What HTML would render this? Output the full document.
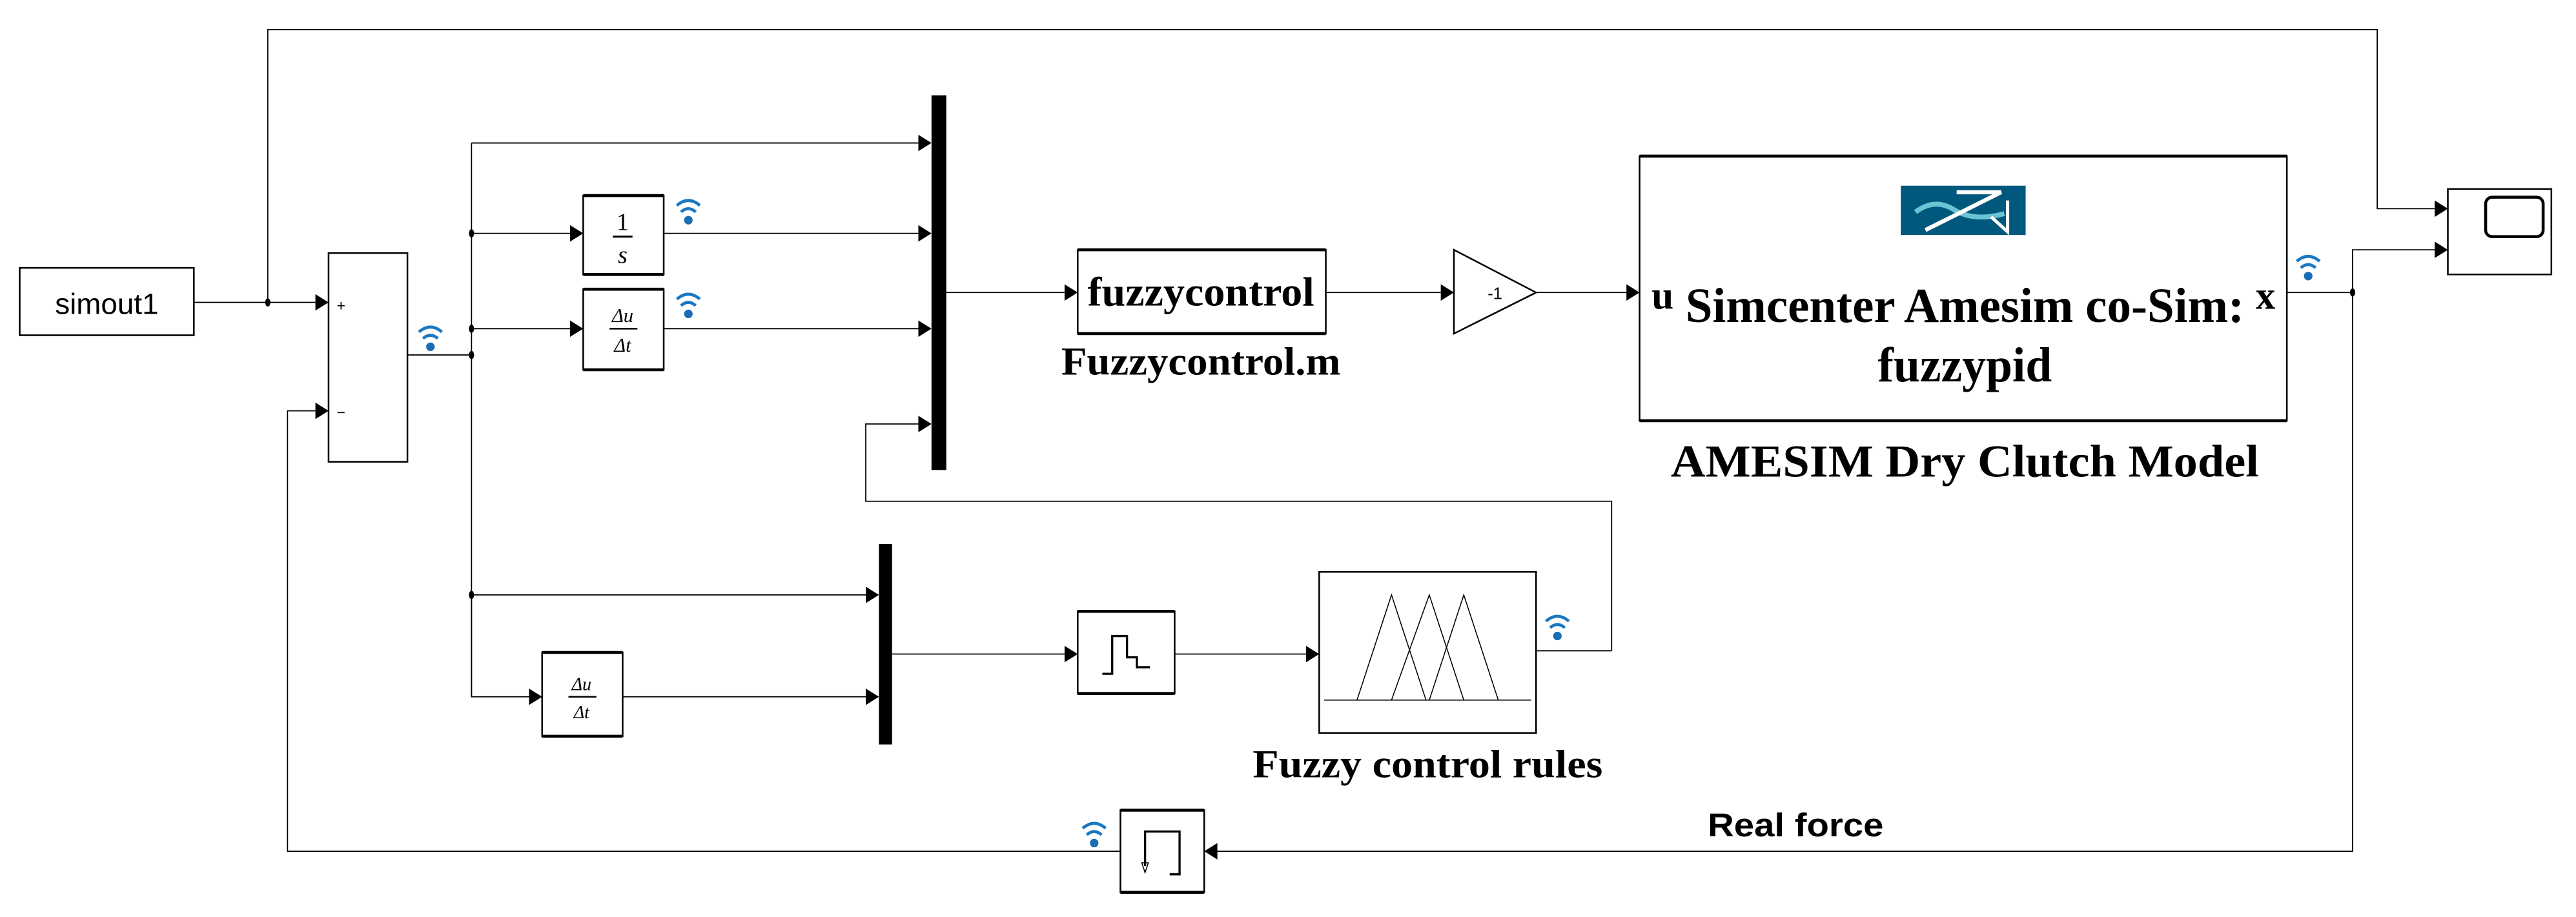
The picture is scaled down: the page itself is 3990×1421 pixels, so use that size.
<!DOCTYPE html>
<html><head><meta charset="utf-8"><style>
html,body{margin:0;padding:0;background:#fff;}
svg{display:block;}
</style></head><body>
<svg width="3990" height="1421" viewBox="0 0 1568 558" preserveAspectRatio="none" xmlns="http://www.w3.org/2000/svg">
<defs>
<g id="wifi">
<path d="M-7,-3 Q0,-9 7,-3" fill="none" stroke="#1a78c2" stroke-width="1.8"/>
<path d="M-4.5,1 Q0,-3 4.5,1" fill="none" stroke="#1a78c2" stroke-width="1.8"/>
<circle cx="0" cy="6" r="2.6" fill="#1a6db5"/>
</g>
</defs>
<rect width="1568" height="558" fill="#fff"/>
<g fill="none" stroke="#000" stroke-width="0.7">
<polyline points="163,184 163,18 1447,18 1447,127 1482,127"/>
<line x1="118" y1="184" x2="192" y2="184"/>
<polyline points="682,518 175,518 175,250 192,250"/>
<line x1="248" y1="216" x2="287" y2="216"/>
<line x1="287" y1="87" x2="287" y2="424"/>
<line x1="287" y1="87" x2="559" y2="87"/>
<line x1="287" y1="142" x2="347" y2="142"/>
<line x1="287" y1="200" x2="347" y2="200"/>
<line x1="404" y1="142" x2="559" y2="142"/>
<line x1="404" y1="200" x2="559" y2="200"/>
<polyline points="981,396 981,305 527,305 527,258 559,258"/>
<line x1="935" y1="396" x2="981" y2="396"/>
<line x1="576" y1="178" x2="648" y2="178"/>
<line x1="807" y1="178" x2="877" y2="178"/>
<line x1="935" y1="178" x2="990" y2="178"/>
<line x1="1392" y1="178" x2="1432" y2="178"/>
<polyline points="1432,178 1432,152 1482,152"/>
<polyline points="1432,178 1432,518 741,518"/>
<line x1="287" y1="362" x2="527" y2="362"/>
<polyline points="287,362 287,424 322,424"/>
<line x1="379" y1="424" x2="527" y2="424"/>
<line x1="543" y1="398" x2="648" y2="398"/>
<line x1="715" y1="398" x2="795" y2="398"/>
</g>
<g fill="#000">
<polygon points="192,179 200,184 192,189"/>
<polygon points="192,245 200,250 192,255"/>
<polygon points="559,82 567,87 559,92"/>
<polygon points="559,137 567,142 559,147"/>
<polygon points="559,195 567,200 559,205"/>
<polygon points="559,253 567,258 559,263"/>
<polygon points="347,137 355,142 347,147"/>
<polygon points="347,195 355,200 347,205"/>
<polygon points="648,173 656,178 648,183"/>
<polygon points="877,173 885,178 877,183"/>
<polygon points="990,173 998,178 990,183"/>
<polygon points="1482,122 1490,127 1482,132"/>
<polygon points="1482,147 1490,152 1482,157"/>
<polygon points="741,513 733,518 741,523"/>
<polygon points="527,357 535,362 527,367"/>
<polygon points="527,419 535,424 527,429"/>
<polygon points="322,419 330,424 322,429"/>
<polygon points="648,393 656,398 648,403"/>
<polygon points="795,393 803,398 795,403"/>
<ellipse cx="163" cy="184" rx="1.6" ry="2.5"/>
<ellipse cx="287" cy="142" rx="1.6" ry="2.5"/>
<ellipse cx="287" cy="200" rx="1.6" ry="2.5"/>
<ellipse cx="287" cy="216" rx="1.6" ry="2.5"/>
<ellipse cx="287" cy="362" rx="1.6" ry="2.5"/>
<ellipse cx="1432" cy="178" rx="1.6" ry="2.5"/>
<rect x="567" y="58" width="9" height="228"/>
<rect x="535" y="331" width="8" height="122"/>
</g>
<g fill="#fff" stroke="#000" stroke-width="1">
<rect x="12" y="163" width="106" height="41"/>
<rect x="200" y="154" width="48" height="127"/>
<rect x="355" y="119" width="49" height="48"/>
<rect x="355" y="176" width="49" height="49"/>
<rect x="656" y="152" width="151" height="51"/>
<polygon points="885,152 935,178 885,203"/>
<rect x="998" y="95" width="394" height="161"/>
<rect x="1490" y="115" width="63" height="52"/>
<rect x="330" y="397" width="49" height="51"/>
<rect x="656" y="372" width="59" height="50"/>
<rect x="803" y="348" width="132" height="98"/>
<rect x="682" y="493" width="51" height="50"/>
</g>
<g stroke="#000" stroke-width="1.8">
<line x1="355" y1="119" x2="404" y2="119"/><line x1="355" y1="167" x2="404" y2="167"/>
<line x1="355" y1="176" x2="404" y2="176"/><line x1="355" y1="225" x2="404" y2="225"/>
<line x1="656" y1="152" x2="807" y2="152"/><line x1="656" y1="203" x2="807" y2="203"/>
<line x1="998" y1="95" x2="1392" y2="95"/><line x1="998" y1="256" x2="1392" y2="256"/>
<line x1="330" y1="397" x2="379" y2="397"/><line x1="330" y1="448" x2="379" y2="448"/>
<line x1="656" y1="372" x2="715" y2="372"/><line x1="656" y1="422" x2="715" y2="422"/>
<line x1="682" y1="493" x2="733" y2="493"/><line x1="682" y1="543" x2="733" y2="543"/>
</g>
<rect x="1513" y="120" width="35" height="24" rx="4" fill="none" stroke="#000" stroke-width="1.8"/>
<g fill="none" stroke="#000" stroke-width="0.6">
<line x1="806" y1="426" x2="932" y2="426"/>
<polyline points="826,426 847,362 868,426"/>
<polyline points="847,426 870,362 891,426"/>
<polyline points="870,426 891,362 912,426"/>
</g>
<polyline points="671,410 677,410 677,387 686,387 686,400 692,400 692,406 700,406" fill="none" stroke="#000" stroke-width="1.3"/>
<polyline points="697,527 697,506 718,506 718,532 712,532" fill="none" stroke="#000" stroke-width="1.3"/>
<polygon points="695,525 699,525 697,531" fill="none" stroke="#000" stroke-width="0.6"/>
<rect x="1157" y="113" width="76" height="30" fill="#00587c"/>
<path d="M1166,129 Q1178,120 1190,128 Q1202,135 1220,130" fill="none" stroke="#6cc3d5" stroke-width="3"/>
<polyline points="1191,117 1218,117 1172,140" fill="none" stroke="#fff" stroke-width="2.5"/>
<polyline points="1222,122 1222,141 1212,132" fill="none" stroke="#fff" stroke-width="2"/>
<use href="#wifi" x="262" y="205"/>
<use href="#wifi" x="419" y="128"/>
<use href="#wifi" x="419" y="185"/>
<use href="#wifi" x="948" y="381"/>
<use href="#wifi" x="1405" y="162"/>
<use href="#wifi" x="666" y="507"/>
<g font-family="Liberation Sans, sans-serif" fill="#000">
<text x="65" y="191" font-size="18" text-anchor="middle">simout1</text>
<text x="205" y="189" font-size="9">+</text>
<text x="205" y="254" font-size="9">−</text>
<text x="910" y="182" font-size="10" text-anchor="middle">-1</text>
<text x="1093" y="509" font-size="20" font-weight="bold" text-anchor="middle" textLength="107" lengthAdjust="spacingAndGlyphs">Real force</text>
</g>
<g font-family="Liberation Serif, serif" fill="#000" font-weight="bold">
<text x="731" y="186" font-size="25" text-anchor="middle" textLength="138" lengthAdjust="spacingAndGlyphs">fuzzycontrol</text>
<text x="731" y="228" font-size="24" text-anchor="middle" textLength="170" lengthAdjust="spacingAndGlyphs">Fuzzycontrol.m</text>
<text x="1196" y="196" font-size="30" text-anchor="middle" textLength="340" lengthAdjust="spacingAndGlyphs">Simcenter Amesim co-Sim:</text>
<text x="1196" y="232" font-size="30" text-anchor="middle" textLength="106" lengthAdjust="spacingAndGlyphs">fuzzypid</text>
<text x="1012" y="188" font-size="24" text-anchor="middle">u</text>
<text x="1379" y="188" font-size="24" text-anchor="middle">x</text>
<text x="1196" y="290" font-size="28" text-anchor="middle" textLength="358" lengthAdjust="spacingAndGlyphs">AMESIM Dry Clutch Model</text>
<text x="869" y="473" font-size="24" text-anchor="middle" textLength="213" lengthAdjust="spacingAndGlyphs">Fuzzy control rules</text>
</g>
<g font-family="Liberation Serif, serif" fill="#000" font-style="italic" text-anchor="middle">
<text x="379" y="140" font-size="15" font-style="normal">1</text>
<line x1="373" y1="144" x2="385" y2="144" stroke="#000" stroke-width="1.2"/>
<text x="379" y="160" font-size="15">s</text>
<text x="379" y="196" font-size="12">Δu</text>
<line x1="371" y1="200" x2="388" y2="200" stroke="#000" stroke-width="1"/>
<text x="379" y="214" font-size="12">Δt</text>
<text x="354" y="420" font-size="11">Δu</text>
<line x1="346" y1="424" x2="363" y2="424" stroke="#000" stroke-width="1"/>
<text x="354" y="437" font-size="11">Δt</text>
</g>
</svg>
</body></html>
